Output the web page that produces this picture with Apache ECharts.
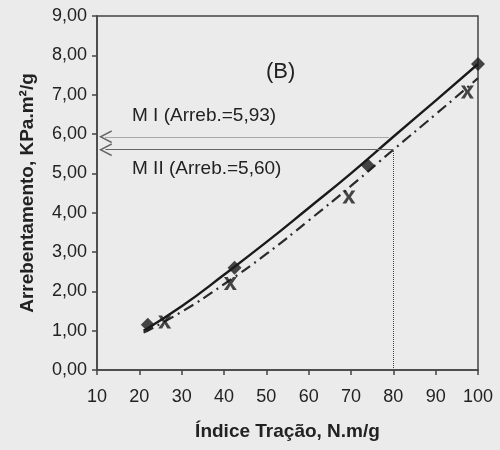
<!DOCTYPE html>
<html>
<head>
<meta charset="utf-8">
<script src="https://cdn.jsdelivr.net/npm/echarts@6/dist/echarts.min.js"></script>
<style>
html,body{margin:0;padding:0;background:#ebebeb;}
#main{width:500px;height:450px;}
</style>
</head>
<body>
<div id="main"></div>
<script>
// pontos medidos
var m1_pts = [[22, 1.15], [42.5, 2.6], [74, 5.2], [100, 7.78]];
var m2_pts = [[26, 1.22], [41.5, 2.2], [69.5, 4.4], [97.5, 7.07]];
// curvas ajustadas
var m1_curve = [[21, 1.0], [30, 1.62], [40, 2.42], [50, 3.25], [60, 4.12], [70, 5.0], [80, 5.93], [90, 6.85], [100, 7.78]];
var m2_curve = [[21, 0.95], [30, 1.48], [40, 2.18], [50, 2.95], [60, 3.8], [70, 4.68], [80, 5.6], [90, 6.5], [100, 7.42]];
var arreb_m1 = 5.93;
var arreb_m2 = 5.60;
var x_ref = 80;

var myChart = echarts.init(document.getElementById('main'));
var xsym = 'path://M0,0L3,0L5,3.5L7,0L10,0L6.5,5L10,10L7,10L5,6.5L3,10L0,10L3.5,5Z';
var chevron = 'path://M5,0L10,10L8.8,10.4L5,2.6L1.2,10.4L0,10Z';
var font = 'Liberation Sans, Arial, sans-serif';

var option = {
    backgroundColor: '#ebebeb',
    animation: false,
    grid: {left: 97, right: 22, top: 16, bottom: 80},
    xAxis: {
        type: 'value',
        min: 10, max: 100, interval: 10,
        name: 'Índice Tração, N.m/g',
        nameLocation: 'middle',
        nameGap: 52,
        nameTextStyle: {color: '#222', fontSize: 19, fontWeight: 'bold', fontFamily: font},
        axisLine: {lineStyle: {color: '#444', width: 1.5}},
        axisTick: {lineStyle: {color: '#444', width: 1.5}, length: 5},
        axisLabel: {color: '#222', fontSize: 18, fontFamily: font, margin: 18},
        splitLine: {show: false}
    },
    yAxis: {
        type: 'value',
        min: 0, max: 9, interval: 1,
        name: 'Arrebentamento, KPa.m²/g',
        nameLocation: 'middle',
        nameGap: 60,
        nameTextStyle: {color: '#222', fontSize: 19, fontWeight: 'bold', fontFamily: font},
        axisLine: {lineStyle: {color: '#444', width: 1.5}},
        axisTick: {lineStyle: {color: '#444', width: 1.5}, length: 5},
        axisLabel: {
            color: '#222', fontSize: 18, fontFamily: font, margin: 10,
            formatter: function (v) { return v.toFixed(2).replace('.', ','); }
        },
        splitLine: {show: false}
    },
    graphic: [
        {type: 'rect', shape: {x: 97, y: 16, width: 381, height: 354}, style: {fill: 'none', stroke: '#444', lineWidth: 1.5}, silent: true},
        {type: 'text', left: 266, top: 61, style: {text: '(B)', fill: '#222', font: '22px ' + font}},
        {type: 'text', left: 132, top: 106, style: {text: 'M I (Arreb.=5,93)', fill: '#222', font: '19px ' + font}},
        {type: 'text', left: 132, top: 159, style: {text: 'M II (Arreb.=5,60)', fill: '#222', font: '19px ' + font}}
    ],
    series: [
        {
            name: 'M I curva', type: 'line', data: m1_curve, smooth: true, showSymbol: false,
            lineStyle: {color: '#1a1a1a', width: 2.4}, z: 3
        },
        {
            name: 'M II curva', type: 'line', data: m2_curve, smooth: true, showSymbol: false,
            lineStyle: {color: '#2a2a2a', width: 2.2, type: [11, 5, 2, 5]}, z: 3
        },
        {
            name: 'M I', type: 'scatter', data: m1_pts, symbol: 'diamond', symbolSize: 14,
            itemStyle: {color: '#1a1a1a'}, z: 4
        },
        {
            name: 'M II', type: 'scatter', data: m2_pts, symbol: xsym, symbolSize: 13,
            itemStyle: {color: '#1a1a1a'}, z: 4
        },
        {
            name: 'ref', type: 'line', data: [], silent: true,
            markLine: {
                silent: true,
                label: {show: false},
                data: [
                    [{coord: [12, arreb_m1], symbol: chevron, symbolSize: [13, 13], lineStyle: {color: '#666', width: 1, type: 'dotted'}},
                     {coord: [79, arreb_m1], symbol: 'none'}],
                    [{coord: [12, arreb_m2], symbol: chevron, symbolSize: [13, 13], lineStyle: {color: '#666', width: 1, type: 'solid'}},
                     {coord: [x_ref, arreb_m2], symbol: 'none'}],
                    [{coord: [x_ref, 0], symbol: 'none', lineStyle: {color: '#444', width: 1, type: 'dotted'}},
                     {coord: [x_ref, arreb_m2], symbol: 'none'}]
                ]
            }
        }
    ]
};

myChart.setOption(option);
</script>
</body>
</html>
